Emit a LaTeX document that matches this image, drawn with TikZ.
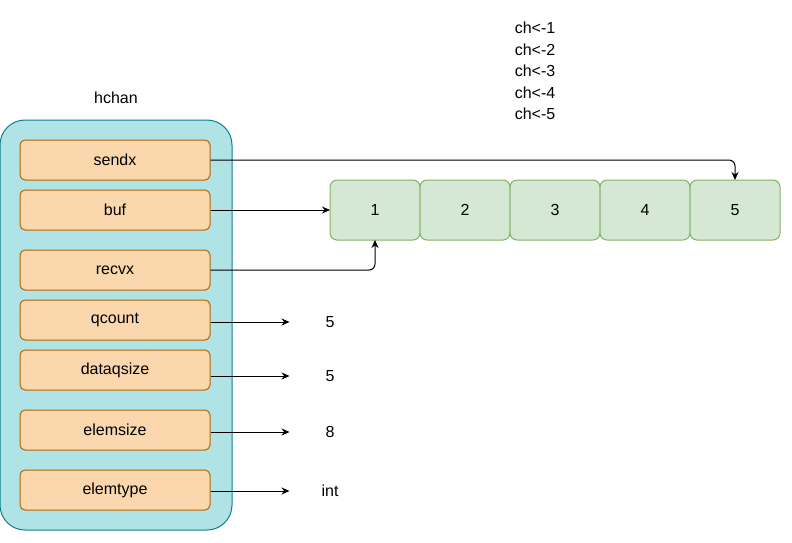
\documentclass[tikz,border=0pt]{standalone}
\usepackage{fontspec}
\setmainfont{Liberation Sans}
\usepackage{xcolor}
\usepackage{tikz}
\usetikzlibrary{arrows.meta,positioning}
\definecolor{chanfill}{HTML}{B0E3E6}
\definecolor{chanline}{HTML}{0E8088}
\definecolor{fieldfill}{HTML}{FAD7AC}
\definecolor{fieldline}{HTML}{B46504}
\definecolor{slotfill}{HTML}{D5E8D4}
\definecolor{slotline}{HTML}{82B366}

\begin{document}
\begin{tikzpicture}[x=1pt,y=-1pt,line width=1pt,
    every node/.style={font=\fontsize{16}{19}\selectfont},
    field/.style={draw=fieldline,fill=fieldfill,rounded corners=5pt,minimum width=190pt,minimum height=40pt,inner sep=0pt},
    slot/.style={draw=slotline,fill=slotfill,rounded corners=7pt,minimum width=90pt,minimum height=60pt,inner sep=0pt,outer sep=0pt},
    val/.style={minimum width=80pt,inner sep=0pt},
    arr/.style={-{Stealth[length=8pt,width=7pt]}}]
  \useasboundingbox (0,0) rectangle (792,542);
  % channel struct
  \draw[chanline,fill=chanfill,rounded corners=25pt] (0,120) rectangle (232,530);
  \node (title) at (116,98) {hchan};
  \node[field] (sendx) at (115,160) {sendx};
  \node[field] (buf) at (115,210) {buf};
  \node[field] (recvx) at (115,270) {recvx};
  \node[field] (qcount) at (115,320) {qcount};
  \node[field] (dataqsize) at (115,370) {dataqsize};
  \node[field] (elemsize) at (115,430) {elemsize};
  \node[field] (elemtype) at (115,490) {elemtype};
  % ring buffer
  \node[slot] (s1) at (375,210) {1};
  \foreach \i [count=\j from 1] in {2,...,5}
    \node[slot,right=0pt of s\j] (s\i) {\i};
  \node[align=center,font=\fontsize{16}{21.5}\selectfont] (sends) at (535,71)
    {ch<-1\\ch<-2\\ch<-3\\ch<-4\\ch<-5};
  % values
  \node[val] (v1) at (330,322) {5};
  \node[val] (v2) at (330,376) {5};
  \node[val] (v3) at (330,432) {8};
  \node[val] (v4) at (330,491) {int};
  % pointers
  \draw[arr,rounded corners=6pt] (sendx.east) -| (s5.north);
  \draw[arr] (buf.east) -- (s1.west);
  \draw[arr,rounded corners=6pt] (recvx.east) -| (s1.south);
  \draw[arr] (qcount.east |- v1) -- (v1.west);
  \draw[arr] (dataqsize.east |- v2) -- (v2.west);
  \draw[arr] (elemsize.east |- v3) -- (v3.west);
  \draw[arr] (elemtype.east |- v4) -- (v4.west);
\end{tikzpicture}
\end{document}
